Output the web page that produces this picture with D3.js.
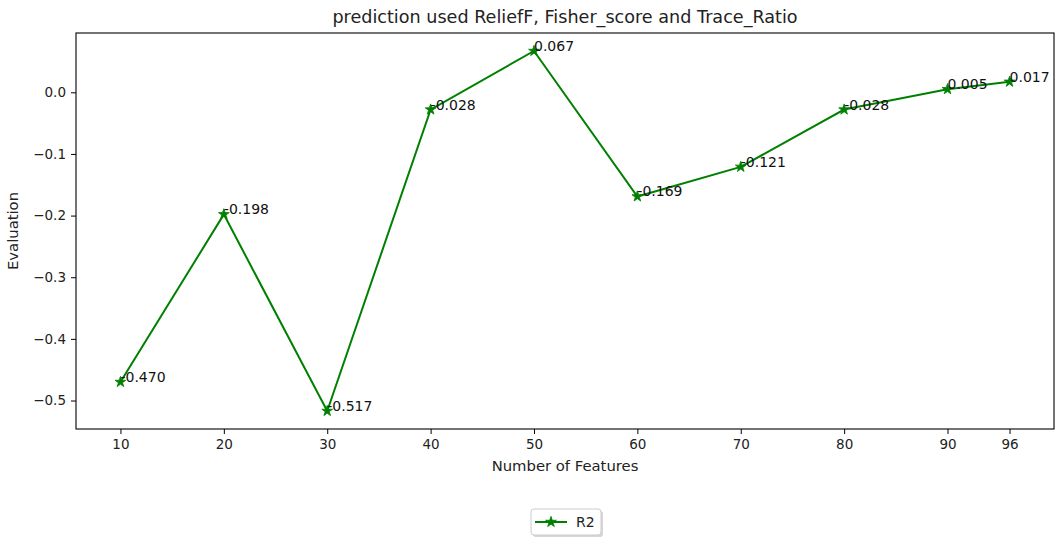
<!DOCTYPE html>
<html>
<head>
<meta charset="utf-8">
<script src="https://cdn.jsdelivr.net/npm/d3@7"></script>
<style>
  html, body { margin: 0; padding: 0; background: #fff; }
  svg { display: block; font-family: "DejaVu Sans", sans-serif; }
</style>
</head>
<body>
<svg id="chart" width="1056" height="537"></svg>
<script>
// Feature counts and the R2 score obtained with each subset
const features = [10, 20, 30, 40, 50, 60, 70, 80, 90, 96];
const r2Values = [-0.470, -0.198, -0.517, -0.028, 0.067, -0.169, -0.121, -0.028, 0.005, 0.017];
const xTickValues = [10, 20, 30, 40, 50, 60, 70, 80, 90, 96];
const yTickValues = [0.0, -0.1, -0.2, -0.3, -0.4, -0.5];
const seriesName = "R2";
const titleText = "prediction used ReliefF, Fisher_score and Trace_Ratio";
const xLabel = "Number of Features";
const yLabel = "Evaluation";

const svg = d3.select("#chart");
const plot = { left: 76, right: 1054, top: 33, bottom: 429 };
const green = "#008000";

// 5% padding around the data range on both axes
const xMin = d3.min(features), xMax = d3.max(features);
const xPad = (xMax - xMin) * 0.05;
const yMin = d3.min(r2Values), yMax = d3.max(r2Values);
const yPad = (yMax - yMin) * 0.05;

const x = d3.scaleLinear().domain([xMin - xPad, xMax + xPad]).range([plot.left, plot.right]);
const y = d3.scaleLinear().domain([yMin - yPad, yMax + yPad]).range([plot.bottom, plot.top]);

const minus = s => s.replace("-", "\u2212");

// Axes
const xAxis = d3.axisBottom(x).tickValues(xTickValues).tickFormat(d3.format("d"))
  .tickSizeInner(5).tickSizeOuter(0).tickPadding(5);
const yAxis = d3.axisLeft(y).tickValues(yTickValues).tickFormat(d => minus(d3.format(".1f")(d)))
  .tickSizeInner(5).tickSizeOuter(0).tickPadding(5);

const gx = svg.append("g").attr("transform", `translate(0,${plot.bottom})`).call(xAxis);
const gy = svg.append("g").attr("transform", `translate(${plot.left},0)`).call(yAxis);
[gx, gy].forEach(g => {
  g.select(".domain").remove();
  g.selectAll(".tick line").attr("stroke", "#000").attr("stroke-width", 1);
  g.selectAll(".tick text").attr("fill", "#222").style("font-size", "13.5px")
    .style("font-family", "DejaVu Sans, sans-serif");
});

// Frame
svg.append("rect")
  .attr("x", plot.left).attr("y", plot.top)
  .attr("width", plot.right - plot.left).attr("height", plot.bottom - plot.top)
  .attr("fill", "none").attr("stroke", "#000").attr("stroke-width", 1.1);

// Series line
const pts = features.map((f, i) => [f, r2Values[i]]);
svg.append("path")
  .datum(pts)
  .attr("fill", "none")
  .attr("stroke", green)
  .attr("stroke-width", 2)
  .attr("d", d3.line().x(d => x(d[0])).y(d => y(d[1])));

// Star markers
const star = d3.symbol().type(d3.symbolStar).size(36);
svg.append("g").selectAll("path")
  .data(pts).join("path")
  .attr("d", star)
  .attr("transform", d => `translate(${x(d[0])},${y(d[1])})`)
  .attr("fill", green).attr("stroke", green).attr("stroke-width", 0.8);

// Value labels, anchored at each point
svg.append("g").selectAll("text")
  .data(pts).join("text")
  .attr("x", d => x(d[0]))
  .attr("y", d => y(d[1]))
  .attr("fill", "#111")
  .style("font-size", "14px")
  .text(d => d3.format(".3f")(d[1]).replace("\u2212", "-"));

// Title and axis labels
svg.append("text")
  .attr("x", (plot.left + plot.right) / 2).attr("y", 23)
  .attr("text-anchor", "middle").attr("fill", "#222")
  .style("font-size", "17.6px").text(titleText);

svg.append("text")
  .attr("x", (plot.left + plot.right) / 2).attr("y", 471)
  .attr("text-anchor", "middle").attr("fill", "#222")
  .style("font-size", "14.8px").text(xLabel);

svg.append("text")
  .attr("transform", `translate(18,${(plot.top + plot.bottom) / 2}) rotate(-90)`)
  .attr("text-anchor", "middle").attr("fill", "#222")
  .style("font-size", "14.8px").text(yLabel);

// Legend below the plot
const lg = svg.append("g").attr("transform", "translate(531,509)");
lg.append("rect").attr("x", 2).attr("y", 2).attr("width", 70).attr("height", 26)
  .attr("rx", 3).attr("fill", "#bbb").attr("opacity", 0.6);
lg.append("rect").attr("x", 0).attr("y", 0).attr("width", 70).attr("height", 26)
  .attr("rx", 3).attr("fill", "#fff").attr("stroke", "#ccc").attr("stroke-width", 1);
lg.append("line").attr("x1", 4).attr("x2", 36).attr("y1", 13).attr("y2", 13)
  .attr("stroke", green).attr("stroke-width", 2);
lg.append("path").attr("d", star).attr("transform", "translate(20,13)")
  .attr("fill", green).attr("stroke", green).attr("stroke-width", 0.8);
lg.append("text").attr("x", 45).attr("y", 18).attr("fill", "#222")
  .style("font-size", "14px").text(seriesName);
</script>
</body>
</html>
